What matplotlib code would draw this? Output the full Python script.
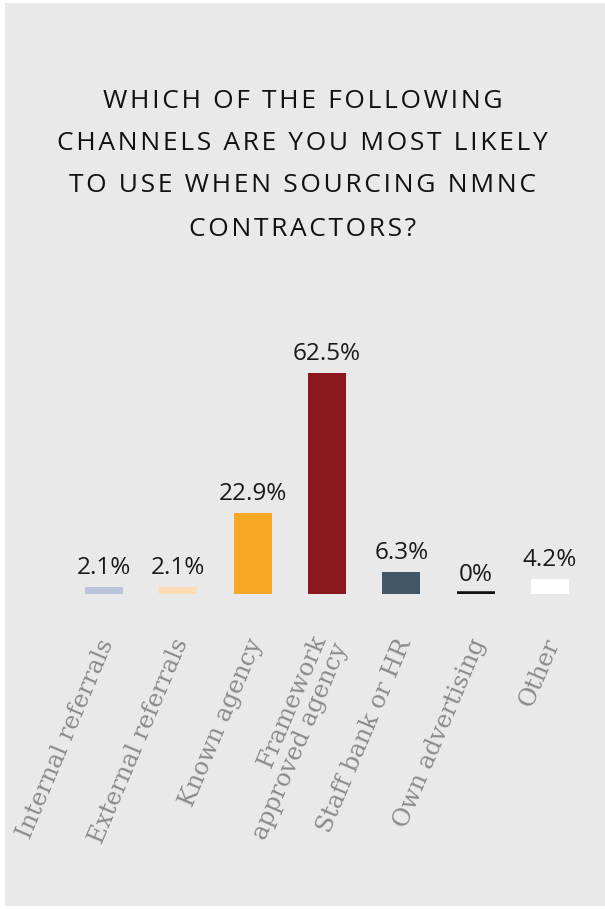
import matplotlib
matplotlib.use('Agg')
import matplotlib.pyplot as plt
from matplotlib.patches import Rectangle
from matplotlib.transforms import ScaledTranslation

channels = ['Internal referrals', 'External referrals', 'Known agency',
            'Framework\napproved agency', 'Staff bank or HR', 'Own advertising', 'Other']
shares = [2.1, 2.1, 22.9, 62.5, 6.3, 0, 4.2]
value_labels = ['2.1%', '2.1%', '22.9%', '62.5%', '6.3%', '0%', '4.2%']
bar_colors = ['#bcc4dc', '#fcdcb4', '#f9a825', '#8b181c', '#435666', '#111111', '#ffffff']
title_lines = ['WHICH OF THE FOLLOWING', 'CHANNELS ARE YOU MOST LIKELY',
               'TO USE WHEN SOURCING NMNC', 'CONTRACTORS?']

W, H = 605, 909
fig = plt.figure(figsize=(W / 100, H / 100), dpi=100)
fig.patch.set_facecolor('white')

# grey card behind everything
fig.patches.append(Rectangle((5 / W, 3 / H), 600 / W, 903 / H, transform=fig.transFigure,
                             facecolor='#e9e9e9', edgecolor='none', zorder=-5))

# title, letter spaced with hair spaces
title_y = [101, 143, 186, 229]
for line, y in zip(title_lines, title_y):
    spaced = '\u200a'.join(line)
    fig.text(0.5, 1 - y / H, spaced, ha='center', va='center', fontsize=19,
             family=['Open Sans', 'DejaVu Sans'], color='#111111')

# axes: bar centres 104 .. 550 px, baseline at 594 px
x0 = 104 - 37.15
ax = fig.add_axes([x0 / W, (H - 594) / H, 520.3 / W, 247.6 / H])
ax.patch.set_alpha(0)
ax.set_zorder(2)
x = range(len(channels))
bars = ax.bar(x, shares, width=0.51, color=bar_colors, zorder=2)
# the 0% bar shows as a black line on the baseline (lower half clipped by the axes)
bars[5].set_edgecolor('#111111')
bars[5].set_linewidth(4)
ax.set_xlim(-0.5, len(channels) - 0.5)
ax.set_ylim(0, 70)

for xi, v, lab in zip(x, shares, value_labels):
    ax.annotate(lab, (xi, v), xytext=(0, 5), textcoords='offset points',
                ha='center', va='bottom', fontsize=17.5, color='#1a1a1a',
                family='Open Sans')

ax.set_yticks([])
ax.set_xticks(list(x))
ax.set_xticklabels(channels, rotation=67, ha='right', va='center',
                   rotation_mode='anchor', fontsize=17.5, color='#8a8a8a',
                   family='DejaVu Serif', linespacing=1.0)
ax.tick_params(axis='x', length=0, pad=33)
for lbl in ax.get_xticklabels():
    lbl.set_transform(lbl.get_transform() + ScaledTranslation(0.04, 0, fig.dpi_scale_trans))
for s in ax.spines.values():
    s.set_visible(False)

fig.savefig('out.png', dpi=100)
